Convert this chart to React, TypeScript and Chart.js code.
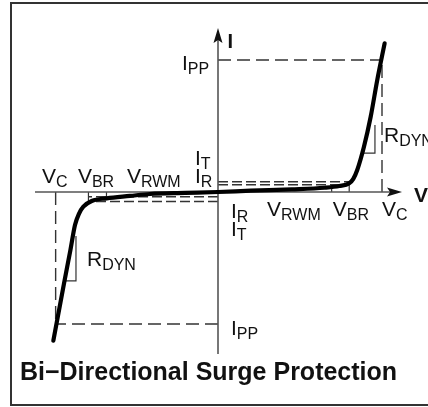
import React, { useEffect, useRef } from 'react';
import { Chart, registerables } from 'chart.js';
Chart.register(...registerables);

// ---------- data (normalised voltage V / current I units) ----------
const curveV = [-1.004, -0.94, -0.9, -0.872, -0.848, -0.821, -0.77, -0.679, -0.537, -0.415, -0.2, 0, 0.2, 0.45, 0.65, 0.74, 0.8, 0.825, 0.849, 0.89, 0.931, 0.971, 1.016];
const curveI = [-1.126, -0.7, -0.44, -0.25, -0.165, -0.111, -0.068, -0.048, -0.03, -0.015, -0.007, 0, 0.01, 0.02, 0.032, 0.045, 0.066, 0.1, 0.167, 0.343, 0.57, 0.848, 1.126];

// characteristic points [left (negative), right (positive)]
const vcLevels = [-0.99, 1.0];
const vbrLevels = [-0.79, 0.8];
const vrwmLevels = [-0.68, 0.693];
const ippLevels = [-1.0, 1.0];
const irLevels = [-0.036, 0.055];
const itLevels = [-0.072, 0.078];

// axis extents
const vAxisSpan = [-1.116, 1.122];
const iAxisSpan = [-1.227, 1.242];

// dynamic resistance markers [left, right]
const rdynV = [-0.866, 0.957];
const rdynIFoot = [-0.674, 0.295];
const rdynITop = [-0.333, 0.508];

const titleText = 'Bi\u2212Directional Surge Protection';

// ---------- helpers ----------
function interpI(v: number): number {
  for (let k = 0; k < curveV.length - 1; k++) {
    if (v >= curveV[k] && v <= curveV[k + 1]) {
      const t = (v - curveV[k]) / (curveV[k + 1] - curveV[k]);
      return curveI[k] + t * (curveI[k + 1] - curveI[k]);
    }
  }
  return 0;
}
function interpV(i: number): number {
  for (let k = 0; k < curveI.length - 1; k++) {
    if (i >= curveI[k] && i <= curveI[k + 1]) {
      const t = (i - curveI[k]) / (curveI[k + 1] - curveI[k]);
      return curveV[k] + t * (curveV[k + 1] - curveV[k]);
    }
  }
  return 0;
}

const FAMILY = '"Liberation Sans", Arial, Helvetica, sans-serif';

const line = (pts: { x: number; y: number }[], extra: any = {}) => ({
  data: pts,
  showLine: true,
  pointRadius: 0,
  pointHoverRadius: 0,
  fill: false,
  tension: 0,
  clip: false,
  borderColor: '#333',
  borderWidth: 1.4,
  ...extra,
});

const DASH_LONG = [13, 6];
const DASH_SHORT = [10, 4];

function buildDatasets() {
  const ds: any[] = [];
  // main characteristic curve
  ds.push(
    line(
      curveV.map((v, k) => ({ x: v, y: curveI[k] })),
      { borderColor: '#000', borderWidth: 4.2, cubicInterpolationMode: 'monotone', borderCapStyle: 'round', borderJoinStyle: 'round' }
    )
  );
  // axes
  ds.push(line([{ x: vAxisSpan[0], y: 0 }, { x: vAxisSpan[1] - 0.03, y: 0 }], { borderColor: '#555', borderWidth: 1.6 }));
  ds.push(line([{ x: 0, y: iAxisSpan[0] }, { x: 0, y: iAxisSpan[1] - 0.05 }], { borderColor: '#555', borderWidth: 1.6 }));

  for (let s = 0; s < 2; s++) {
    // I_PP horizontal and V_C vertical dashed lines
    ds.push(line([{ x: 0, y: ippLevels[s] }, { x: vcLevels[s], y: ippLevels[s] }], { borderDash: DASH_LONG }));
    ds.push(line([{ x: vcLevels[s], y: 0 }, { x: vcLevels[s], y: ippLevels[s] }], { borderDash: DASH_LONG }));
    // I_R and I_T dashed lines
    ds.push(line([{ x: 0, y: irLevels[s] }, { x: vbrLevels[s], y: irLevels[s] }], { borderDash: DASH_SHORT }));
    ds.push(line([{ x: 0, y: itLevels[s] }, { x: vbrLevels[s], y: itLevels[s] }], { borderDash: DASH_SHORT }));
    // V_RWM and V_BR ticks up to the curve
    ds.push(line([{ x: vrwmLevels[s], y: 0 }, { x: vrwmLevels[s], y: interpI(vrwmLevels[s]) }], { borderWidth: 1.2 }));
    ds.push(line([{ x: vbrLevels[s], y: 0 }, { x: vbrLevels[s], y: interpI(vbrLevels[s]) }], { borderWidth: 1.2 }));
    // R_DYN marker
    ds.push(
      line(
        [
          { x: interpV(rdynIFoot[s]), y: rdynIFoot[s] },
          { x: rdynV[s], y: rdynIFoot[s] },
          { x: rdynV[s], y: rdynITop[s] },
        ],
        { borderWidth: 1.2 }
      )
    );
  }
  return ds;
}

// text annotations anchored at (V, I) values: main text + subscript
const annotations: { main: string; sub: string; v: number; i: number; bold?: boolean; size?: number }[] = [
  { main: 'I', sub: 'PP', v: -0.22, i: 0.925 },
  { main: 'I', sub: '', v: 0.058, i: 1.09, bold: true, size: 20 },
  { main: 'I', sub: 'T', v: -0.14, i: 0.205 },
  { main: 'I', sub: 'R', v: -0.14, i: 0.068 },
  { main: 'V', sub: 'C', v: -1.073, i: 0.068 },
  { main: 'V', sub: 'BR', v: -0.854, i: 0.068 },
  { main: 'V', sub: 'RWM', v: -0.555, i: 0.068 },
  { main: 'V', sub: '', v: 1.195, i: -0.073, bold: true, size: 21 },
  { main: 'I', sub: 'R', v: 0.079, i: -0.197 },
  { main: 'I', sub: 'T', v: 0.079, i: -0.333 },
  { main: 'V', sub: 'RWM', v: 0.299, i: -0.182 },
  { main: 'V', sub: 'BR', v: 0.7, i: -0.182 },
  { main: 'V', sub: 'C', v: 1.0, i: -0.182 },
  { main: 'R', sub: 'DYN', v: 1.012, i: 0.379 },
  { main: 'R', sub: 'DYN', v: -0.799, i: -0.561 },
  { main: 'I', sub: 'PP', v: 0.079, i: -1.083 },
];

const decorPlugin = {
  id: 'decor',
  afterDatasetsDraw(chart: any) {
    const { ctx, scales } = chart;
    const xs = scales.x;
    const ys = scales.y;
    ctx.save();
    // arrow heads
    ctx.fillStyle = '#111';
    const ax = xs.getPixelForValue(vAxisSpan[1]);
    const ay = ys.getPixelForValue(0);
    ctx.beginPath();
    ctx.moveTo(ax, ay);
    ctx.lineTo(ax - 15, ay - 4.5);
    ctx.lineTo(ax - 12, ay);
    ctx.lineTo(ax - 15, ay + 4.5);
    ctx.closePath();
    ctx.fill();
    const bx = xs.getPixelForValue(0);
    const by = ys.getPixelForValue(iAxisSpan[1]);
    ctx.beginPath();
    ctx.moveTo(bx, by);
    ctx.lineTo(bx - 4.5, by + 15);
    ctx.lineTo(bx, by + 12);
    ctx.lineTo(bx + 4.5, by + 15);
    ctx.closePath();
    ctx.fill();

    // labels
    ctx.fillStyle = '#111';
    ctx.textBaseline = 'alphabetic';
    ctx.textAlign = 'left';
    for (const a of annotations) {
      const px = xs.getPixelForValue(a.v);
      const py = ys.getPixelForValue(a.i);
      ctx.font = `${a.bold ? 'bold ' : ''}${a.size || 21}px ${FAMILY}`;
      ctx.fillText(a.main, px, py);
      const w = ctx.measureText(a.main).width;
      if (a.sub) {
        ctx.font = `16px ${FAMILY}`;
        ctx.fillText(a.sub, px + w, py + 4);
      }
    }
    ctx.restore();
  },
};

export default function App() {
  const ref = useRef<HTMLCanvasElement>(null);
  useEffect(() => {
    const chart = new Chart(ref.current as HTMLCanvasElement, {
      type: 'scatter',
      data: { datasets: buildDatasets() },
      options: {
        animation: false,
        responsive: false,
        events: [],
        layout: { padding: { left: 13, right: 24, top: 7.2, bottom: 0 } },
        scales: {
          x: { type: 'linear', min: -1.25, max: 1.134146, display: false },
          y: { type: 'linear', min: -1.25, max: 1.4, display: false },
        },
        plugins: {
          legend: { display: false },
          tooltip: { enabled: false },
          title: {
            display: true,
            position: 'bottom',
            text: titleText,
            color: '#111',
            font: { family: FAMILY, size: 25, weight: 'bold', lineHeight: 1.2 },
            padding: { top: 1, bottom: 19 },
          },
        },
      } as any,
      plugins: [decorPlugin],
    });
    return () => chart.destroy();
  }, []);
  return (
    <div style={{ position: 'fixed', left: 0, top: 0, width: 428, height: 407, overflow: 'hidden', background: '#fff' }}>
      <canvas ref={ref} width={428} height={407} style={{ position: 'absolute', left: 0, top: 0 }} />
      <div
        style={{
          position: 'absolute',
          left: 10,
          top: 2,
          width: 600,
          height: 404,
          border: '2px solid #333',
          boxSizing: 'border-box',
          pointerEvents: 'none',
        }}
      />
    </div>
  );
}
